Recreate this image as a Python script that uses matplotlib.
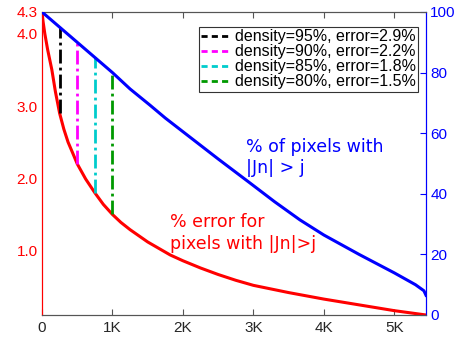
import matplotlib
matplotlib.use('Agg')
import matplotlib.pyplot as plt
from matplotlib.lines import Line2D

# threshold j and the two curves
j_err = [0, 15, 40, 80, 140, 190, 250, 310, 370, 440, 500, 620, 750, 870, 1000,
         1120, 1250, 1500, 1820, 2000, 2250, 2500, 2750, 3000, 3500, 4000, 4500,
         5000, 5450]
err = [4.3, 4.17, 4.0, 3.78, 3.5, 3.2, 2.9, 2.68, 2.5, 2.34, 2.2, 1.99, 1.8, 1.64, 1.5,
       1.39, 1.29, 1.12, 0.94, 0.86, 0.76, 0.67, 0.59, 0.52, 0.42, 0.33, 0.25,
       0.17, 0.11]

j_pct = [0, 250, 500, 750, 1000, 1250, 1530, 1750, 2000, 2250, 2500, 2950, 3300,
         3660, 4000, 4500, 5000, 5300, 5420, 5450]
pct = [100, 95, 90, 85, 80, 74.6, 69.3, 65, 60.5, 56, 51.5, 43.6, 37.4,
       31.4, 26.4, 20, 13.9, 10, 8, 6.5]

# marked thresholds
j_marks = [250, 500, 750, 1000]
density = [95, 90, 85, 80]
err_marks = [2.9, 2.2, 1.8, 1.5]
mark_colors = ['black', '#ff00ff', '#00cccc', '#009900']

xticks = [0, 1000, 2000, 3000, 4000, 5000]
xticklabels = ['0', '1K', '2K', '3K', '4K', '5K']
left_ticks = [1.0, 2.0, 3.0, 4.0, 4.3]
right_ticks = [0, 20, 40, 60, 80, 100]

ylo, yhi = 0.11, 4.3
tick_font = 'Liberation Sans'

fig = plt.figure(figsize=(4.61, 3.37), dpi=100)
ax = fig.add_axes([0.0911, 0.0653, 0.833, 0.8991])
ax2 = ax.twinx()

ax.plot(j_err, err, color='red', lw=2.2, zorder=3, solid_joinstyle='round')
ax2.plot(j_pct, pct, color='blue', lw=2.2, zorder=3, solid_joinstyle='round')

# vertical markers from error curve up to the percent curve (right axis units)
for x, d, e, c in zip(j_marks, density, err_marks, mark_colors):
    bottom = (e - ylo) / (yhi - ylo) * 100
    ax2.plot([x, x], [bottom, d], color=c, lw=2, linestyle=(0, (5, 1.5, 1, 1.5)), zorder=2)

ax.set_xlim(0, 5450)
ax.set_ylim(ylo, yhi)
ax2.set_ylim(0, 100)

ax.set_xticks(xticks)
ax.set_xticklabels(xticklabels, fontfamily=tick_font, fontsize=11, color='#262626')
ax.set_yticks(left_ticks)
ax.set_yticklabels(['%.1f' % v for v in left_ticks], fontfamily=tick_font,
                   fontsize=11, color='red')
ax2.set_yticks(right_ticks)
ax2.set_yticklabels([str(v) for v in right_ticks], fontfamily=tick_font,
                    fontsize=11, color='blue')

ax.tick_params(axis='x', direction='in', top=True, length=4, color='#555555', pad=4)
ax.tick_params(axis='y', length=0, pad=3)
ax2.tick_params(axis='y', direction='in', length=4, color='blue', pad=3)

for a in (ax, ax2):
    a.spines['top'].set_color('#555555')
    a.spines['bottom'].set_color('#555555')
    a.spines['left'].set_color('red')
    a.spines['right'].set_color('blue')

ax2.text(2890, 58.5, '% of pixels with\n|Jn| > j', color='blue', fontsize=12.5,
         va='top', ha='left', family='DejaVu Sans', linespacing=1.25)
ax2.text(1820, 33.5, '% error for\npixels with |Jn|>j', color='red', fontsize=12.5,
         va='top', ha='left', family='DejaVu Sans', linespacing=1.25)

handles = [Line2D([0], [0], color=c, lw=2, linestyle=(0, (2.2, 1.5)))
           for c in mark_colors]
labels = ['density=%d%%, error=%.1f%%' % (d, e) for d, e in zip(density, err_marks)]
leg = ax2.legend(handles, labels, loc='upper right', bbox_to_anchor=(0.979, 0.9505),
                 borderaxespad=0, fancybox=False, framealpha=1, edgecolor='#333333',
                 prop={'family': tick_font, 'size': 11.5}, handlelength=1.9,
                 handletextpad=0.2, labelspacing=0.0, borderpad=0.15)
leg.get_frame().set_linewidth(0.8)

fig.savefig('out.png', dpi=100)
